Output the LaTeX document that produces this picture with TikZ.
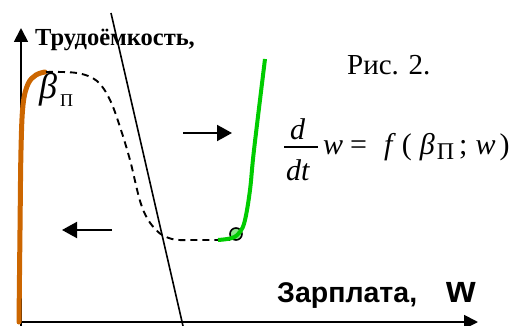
\documentclass[tikz,border=0pt]{standalone}
\usepackage{fontspec}
\setmainfont{Liberation Serif}
\setsansfont{Liberation Sans}
\usetikzlibrary{arrows.meta}
\definecolor{curveorange}{RGB}{204,102,0}
\definecolor{curvegreen}{RGB}{0,204,0}
\definecolor{dotgreen}{RGB}{140,230,140}
\begin{document}
\begin{tikzpicture}[x=1pt,y=1pt,
  axis/.style={line width=1.8pt,-{Triangle[length=14pt,width=14pt]}},
  shiftarrow/.style={line width=2pt,-{Triangle[length=15pt,width=16pt]}},
  txt/.style={inner sep=0pt,anchor=base west}]
\useasboundingbox (0,0) rectangle (514,-326);
% axes
\coordinate (O) at (21,-326);
\coordinate (Ytop) at (21,-28);
\coordinate (Xl) at (20,-322);
\coordinate (Xr) at (478,-322);
\draw[axis] (O) -- (Ytop);
\draw[axis] (Xl) -- (Xr);
% straight line
\coordinate (L1) at (111,-13);
\coordinate (L2) at (183,-326);
\draw[line width=1.6pt] (L1) -- (L2);
% orange curve
\draw[curveorange,line width=5pt,line cap=round]
  plot[smooth,tension=0.6] coordinates {(19,-322) (20,-230) (21,-150) (23,-105) (28,-84) (36,-75) (45,-72)};
% dashed curve
\draw[line width=1.9pt,dash pattern=on 7pt off 5pt]
  plot[smooth,tension=0.6] coordinates {(46,-72) (77,-73) (97,-81) (110,-100) (120,-127) (130,-160) (142,-207) (156,-230) (172,-239) (190,-240)}
  -- (230,-240);
% circle and green curve
\node[circle,draw,line width=1.6pt,fill=dotgreen,minimum size=12pt,inner sep=0pt] (eq) at (236,-234) {};
\draw[curvegreen,line width=4pt]
  plot[smooth,tension=0.6] coordinates {(218,-240) (232,-238) (240,-232) (245,-220) (250,-190) (254,-150) (265,-59)};
% shift arrows
\coordinate (Ra) at (183,-133);
\coordinate (Rb) at (232,-133);
\coordinate (La) at (112,-230);
\coordinate (Lb) at (62,-230);
\draw[shiftarrow] (Ra) -- (Rb);
\draw[shiftarrow] (La) -- (Lb);
% texts
\node[txt,font=\fontsize{24.5}{24.5}\selectfont\bfseries] (ylab) at (35,-46) {Трудоёмкость,};
\node[txt,font=\fontsize{29}{29}\selectfont] (fig) at (347,-75) {Рис. 2.};
\node[txt,font=\fontsize{28.5}{28.5}\selectfont\sffamily\bfseries] (xlab) at (277,-302) {Зарплата,\hspace{29pt}{\fontsize{38}{38}\selectfont w}};
\node[txt,font=\fontsize{36}{36}\selectfont\itshape] (beta) at (39,-99) {β};
\node[txt,font=\fontsize{18}{18}\selectfont] (betasub) at (60,-107) {П};
% formula
\node[txt,font=\fontsize{30}{30}\selectfont\itshape] (fd) at (290,-140) {d};
\node[txt,font=\fontsize{30}{30}\selectfont\itshape] (fdt) at (286,-180) {dt};
\coordinate (barl) at (284,-147);
\coordinate (barr) at (318,-147);
\draw[line width=1.2pt] (barl) -- (barr);
\node[txt,font=\fontsize{30}{30}\selectfont] (frhs) at (323,-155)
  {\textit{w}\hspace{7pt}=\hspace{17pt}\textit{f}\hspace{6pt}(\hspace{8pt}\textit{β}\hspace{2pt}\raisebox{-5pt}{\fontsize{24}{24}\selectfont П}\hspace{5pt};\hspace{8pt}\textit{w}\hspace{4pt})};
\end{tikzpicture}
\end{document}
